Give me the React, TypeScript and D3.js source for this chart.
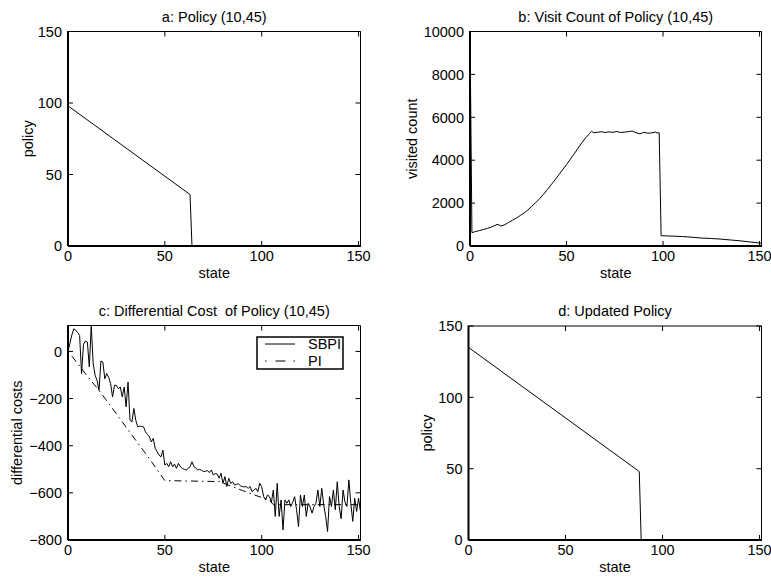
import React from 'react';
import * as d3 from 'd3';

// ---------- data ----------
const xTickValues = [0, 50, 100, 150];

// a: Policy (10,45)
const policyAStates = [0, 63, 64, 151];
const policyAValues = [98, 36, 0, 0];
const policyYTicks = [0, 50, 100, 150];

// b: Visit count
const visitStates = [0, 1, 3, 5, 7, 9, 11, 13, 14, 15, 16, 18, 20, 22, 24, 26, 28, 30, 32, 34, 36, 38, 40, 42, 44, 46, 48, 50, 52, 54, 56, 58, 60, 62, 63, 64, 66, 68, 70, 72, 74, 76, 78, 80, 82, 84, 86, 88, 90, 92, 94, 96, 97, 98, 99, 105, 110, 115, 120, 125, 130, 135, 140, 145, 151];
const visitValues = [10000, 620, 680, 720, 770, 820, 880, 960, 1010, 980, 930, 990, 1100, 1200, 1300, 1420, 1540, 1680, 1850, 2020, 2200, 2400, 2620, 2850, 3080, 3320, 3560, 3800, 4050, 4300, 4560, 4820, 5050, 5250, 5350, 5280, 5300, 5330, 5290, 5320, 5300, 5340, 5290, 5310, 5330, 5360, 5280, 5230, 5300, 5260, 5270, 5310, 5270, 5280, 480, 460, 440, 410, 370, 350, 320, 280, 240, 190, 130];
const visitYTicks = [0, 2000, 4000, 6000, 8000, 10000];

// c: Differential cost
const sbpiStates = d3.range(0, 152);
const sbpiValues = [
  0, 35, 70, 96, 90, 80, 68, -94, 30, 44,
  40, -66, 110, -52, -101, -123, -165, -41, -45, -116,
  -94, -110, -137, -193, -144, -144, -158, -151, -193, -151,
  -235, -130, -292, -299, -242, -292, -320, -317, -318, -320,
  -341, -352, -362, -384, -369, -411, -425, -440, -447, -419,
  -482, -475, -489, -468, -489, -478, -496, -475, -489, -496,
  -500, -503, -496, -490, -468, -489, -495, -503, -500, -505,
  -510, -508, -506, -514, -503, -524, -518, -520, -538, -517,
  -560, -531, -573, -538, -560, -553, -567, -563, -562, -570,
  -573, -575, -573, -581, -573, -595, -588, -581, -595, -560,
  -574, -616, -630, -609, -616, -640, -588, -700, -560, -700,
  -630, -757, -630, -644, -630, -658, -640, -616, -672, -743,
  -609, -658, -609, -700, -644, -660, -686, -658, -644, -588,
  -658, -581, -650, -700, -764, -616, -658, -588, -672, -553,
  -658, -710, -588, -640, -658, -545, -644, -721, -623, -679,
  -623, -680,
];
const piStates = [2, 10, 16, 25, 33, 42, 50, 78, 90, 104, 106, 151];
const piValues = [-20, -105, -165, -265, -355, -455, -548, -552, -590, -632, -650, -650];
const costYTicks = [-800, -600, -400, -200, 0];
const legendLabels = ['SBPI', 'PI'];

// d: Updated policy
const policyDStates = [0, 88, 89, 151];
const policyDValues = [135, 48, 0, 0];

// ---------- layout ----------
const FONT = 'Liberation Sans, Arial, Helvetica, sans-serif';
const FS = 14.5;

type Series = { xs: number[]; ys: number[]; dash?: string };

type PanelProps = {
  id: string;
  left: number; right: number; top: number; bottom: number;
  yDomain: [number, number];
  yTicks: number[];
  title: string;
  ylabel: string;
  ylabelX: number;
  series: Series[];
  children?: React.ReactNode;
};

function Panel(p: PanelProps) {
  const x = d3.scaleLinear().domain([0, 151]).range([p.left, p.right]);
  const y = d3.scaleLinear().domain(p.yDomain).range([p.bottom, p.top]);
  const tl = 5;
  const cx = (p.left + p.right) / 2;
  const cy = (p.top + p.bottom) / 2;
  return (
    <g>
      <defs>
        <clipPath id={p.id}>
          <rect x={p.left} y={p.top} width={p.right - p.left} height={p.bottom - p.top} />
        </clipPath>
      </defs>
      <g clipPath={`url(#${p.id})`}>
        {p.series.map((s, i) => {
          const line = d3.line<number>().x((_, k) => x(s.xs[k])).y((_, k) => y(s.ys[k]));
          return (
            <path key={i} d={line(s.ys) || ''} fill="none" stroke="#000" strokeWidth={1}
              strokeDasharray={s.dash} strokeLinejoin="round" />
          );
        })}
      </g>
      {/* box */}
      <line x1={p.left} x2={p.right} y1={p.top} y2={p.top} stroke="#000" strokeWidth={1} />
      <line x1={p.right} x2={p.right} y1={p.top} y2={p.bottom} stroke="#000" strokeWidth={1} />
      <line x1={p.left} x2={p.right + 0.5} y1={p.bottom} y2={p.bottom} stroke="#000" strokeWidth={2} />
      <line x1={p.left} x2={p.left} y1={p.top - 0.5} y2={p.bottom} stroke="#000" strokeWidth={2} />
      {/* x ticks */}
      {xTickValues.map((t) => (
        <g key={'x' + t}>
          <line x1={x(t)} x2={x(t)} y1={p.bottom} y2={p.bottom - tl} stroke="#000" />
          <line x1={x(t)} x2={x(t)} y1={p.top} y2={p.top + tl} stroke="#000" />
          <text x={x(t)} y={p.bottom + 15} textAnchor="middle" fontSize={FS} fontFamily={FONT}>{t}</text>
        </g>
      ))}
      {/* y ticks */}
      {p.yTicks.map((t) => (
        <g key={'y' + t}>
          <line x1={p.left} x2={p.left + tl} y1={y(t)} y2={y(t)} stroke="#000" />
          <line x1={p.right} x2={p.right - tl} y1={y(t)} y2={y(t)} stroke="#000" />
          <text x={p.left - 6} y={y(t)} dy="0.36em" textAnchor="end" fontSize={FS} fontFamily={FONT}>
            {t < 0 ? '\u2212' + Math.abs(t) : t}
          </text>
        </g>
      ))}
      <text x={cx} y={p.top - 10} textAnchor="middle" fontSize={FS} fontFamily={FONT}
        style={{ whiteSpace: 'pre' }}>{p.title}</text>
      <text x={cx} y={p.bottom + 32} textAnchor="middle" fontSize={FS} fontFamily={FONT}>state</text>
      <text transform={`translate(${p.ylabelX},${cy}) rotate(-90)`} textAnchor="middle" fontSize={FS}
        fontFamily={FONT}>{p.ylabel}</text>
      {p.children}
    </g>
  );
}

export default function App() {
  const lx1 = 265, lx2 = 295, ltx = 308;
  return (
    <svg width={771} height={579} style={{ position: 'absolute', left: 0, top: 0, background: '#fff' }}>
      <rect x={0} y={0} width={771} height={579} fill="#fff" />
      <Panel id="ca" left={68} right={360.5} top={31.5} bottom={246}
        yDomain={[0, 150]} yTicks={policyYTicks} title="a: Policy (10,45)" ylabel="policy" ylabelX={33}
        series={[{ xs: policyAStates, ys: policyAValues }]} />
      <Panel id="cb" left={470} right={761.5} top={31.5} bottom={246}
        yDomain={[0, 10000]} yTicks={visitYTicks} title="b: Visit Count of Policy (10,45)"
        ylabel="visited count" ylabelX={417}
        series={[{ xs: visitStates, ys: visitValues }]} />
      <Panel id="cc" left={68} right={360.5} top={325.5} bottom={540}
        yDomain={[-800, 110]} yTicks={costYTicks} title="c: Differential Cost  of Policy (10,45)"
        ylabel="differential costs" ylabelX={22}
        series={[{ xs: sbpiStates, ys: sbpiValues }, { xs: piStates, ys: piValues, dash: '7,4,1.5,4' }]}>
        <g>
          <rect x={257} y={337} width={86} height={32} fill="#fff" stroke="#000" strokeWidth={1.5} />
          <line x1={lx1} x2={lx2} y1={344} y2={344} stroke="#000" />
          <text x={ltx} y={344} dy="0.36em" fontSize={FS} fontFamily={FONT}>{legendLabels[0]}</text>
          <line x1={lx1} x2={lx2} y1={361} y2={361} stroke="#000" strokeDasharray="1.5,9,10,8,1.5" />
          <text x={ltx} y={361} dy="0.36em" fontSize={FS} fontFamily={FONT}>{legendLabels[1]}</text>
        </g>
      </Panel>
      <Panel id="cd" left={468.5} right={761.5} top={326} bottom={540}
        yDomain={[0, 150]} yTicks={policyYTicks} title="d: Updated Policy" ylabel="policy" ylabelX={432}
        series={[{ xs: policyDStates, ys: policyDValues }]} />
    </svg>
  );
}
